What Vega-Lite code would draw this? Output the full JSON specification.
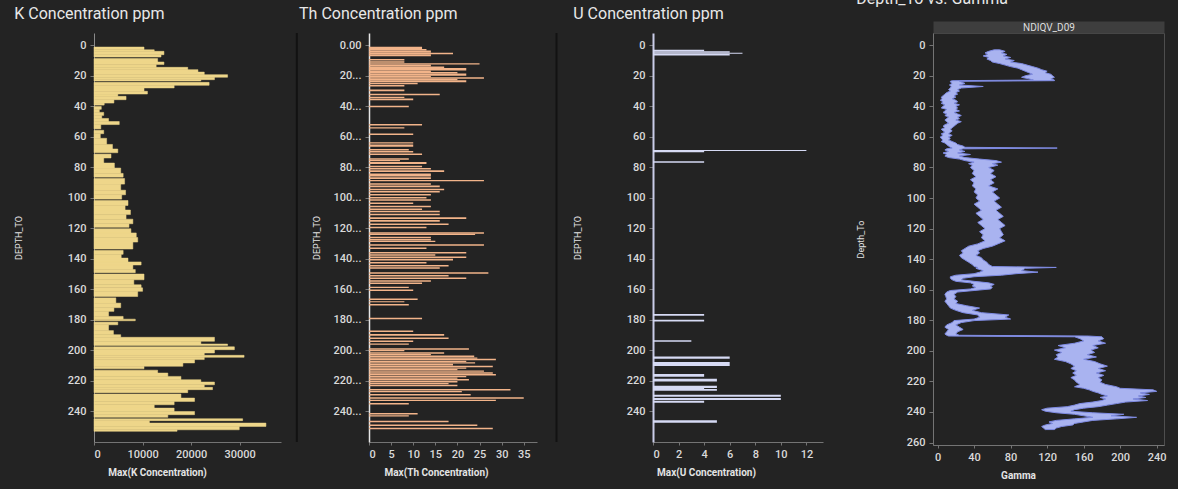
{
 "$schema": "https://vega.github.io/schema/vega-lite/v6.json",
 "background": "#232323",
 "padding": {"left": 14, "top": -10, "right": 15, "bottom": 8},
 "bounds": "flush",
 "spacing": 0,
 "datasets": {
  "k": [
   {"from":1.2,"to":3,"value":10300},{"from":3,"to":4,"value":12400},{"from":4,"to":6.2,"value":14400},{"from":6.2,"to":7.75,"value":13800},
   {"from":8.75,"to":11,"value":13100},{"from":11,"to":12.7,"value":14400},{"from":12.7,"to":14.5,"value":12800},{"from":14.5,"to":16,"value":19300},{"from":16,"to":17.6,"value":21400},{"from":17.6,"to":19.3,"value":22700},{"from":19.3,"to":21,"value":27500},{"from":21,"to":22.6,"value":24800},{"from":22.6,"to":23.45,"value":22000},
   {"from":24.35,"to":26.3,"value":23700},{"from":26.3,"to":28,"value":16500},{"from":28,"to":30.2,"value":10300},{"from":30.2,"to":32,"value":11000},{"from":32,"to":33.5,"value":4900},{"from":33.5,"to":35.7,"value":6600},{"from":35.7,"to":37.9,"value":4100},{"from":37.9,"to":39.25,"value":2100},
   {"from":40.15,"to":42,"value":1500},{"from":42,"to":44,"value":1100},{"from":44,"to":46,"value":2000},{"from":46,"to":48,"value":1600},{"from":48,"to":50,"value":3000},{"from":50,"to":52,"value":5200},{"from":52,"to":54.85,"value":1400},
   {"from":55.75,"to":58,"value":2000},{"from":58,"to":61,"value":1300},{"from":61,"to":65,"value":2600},{"from":65,"to":68,"value":3800},{"from":68,"to":70.45,"value":4900},
   {"from":71.35,"to":73.9,"value":3500},{"from":73.9,"to":77.2,"value":2000},{"from":77.2,"to":80.5,"value":4200},{"from":80.5,"to":84,"value":5500},{"from":84,"to":86.45,"value":6000},
   {"from":87.35,"to":91,"value":6300},{"from":91,"to":95,"value":5500},{"from":95,"to":98,"value":6500},{"from":98,"to":100.85,"value":5700},
   {"from":101.75,"to":105,"value":7000},{"from":105,"to":108,"value":6400},{"from":108,"to":111,"value":7500},{"from":111,"to":114,"value":6600},{"from":114,"to":117,"value":8000},{"from":117,"to":119.35,"value":7200},
   {"from":120.25,"to":123,"value":7600},{"from":123,"to":126,"value":8700},{"from":126,"to":129,"value":9000},{"from":129,"to":133.55,"value":8000},
   {"from":134.45,"to":137,"value":6000},{"from":137,"to":139.5,"value":5600},{"from":139.5,"to":142,"value":7000},{"from":142,"to":144,"value":9700},{"from":144,"to":147,"value":8000},{"from":147,"to":149.05,"value":8500},
   {"from":149.95,"to":153.7,"value":10300},{"from":153.7,"to":157,"value":8200},{"from":157,"to":159,"value":9700},{"from":159,"to":161.3,"value":10000},{"from":161.3,"to":164.65,"value":9000},
   {"from":165.55,"to":169,"value":4500},{"from":169,"to":172,"value":5500},{"from":172,"to":174.4,"value":4100},{"from":174.4,"to":177.7,"value":3000},{"from":177.7,"to":179.5,"value":6000},{"from":179.5,"to":180.55,"value":8500},
   {"from":181.45,"to":183.2,"value":4900},{"from":183.2,"to":187,"value":3000},{"from":187,"to":189.7,"value":4000},{"from":189.7,"to":191.4,"value":5500},{"from":191.4,"to":194,"value":24800},{"from":194,"to":195.8,"value":22000},{"from":195.8,"to":196.75,"value":27500},
   {"from":197.65,"to":199.5,"value":28900},{"from":199.5,"to":201.7,"value":24800},{"from":201.7,"to":203.2,"value":22700},{"from":203.2,"to":204.5,"value":30900},{"from":204.5,"to":206,"value":22700},{"from":206,"to":208.2,"value":20700},{"from":208.2,"to":210.4,"value":18300},{"from":210.4,"to":212.05,"value":10300},
   {"from":212.95,"to":214.8,"value":13100},{"from":214.8,"to":217,"value":15200},{"from":217,"to":219.2,"value":17900},{"from":219.2,"to":220.7,"value":22000},{"from":220.7,"to":222.5,"value":24800},{"from":222.5,"to":224.2,"value":22700},{"from":224.2,"to":225.7,"value":24400},{"from":225.7,"to":227.65,"value":19300},
   {"from":228.55,"to":231.2,"value":17900},{"from":231.2,"to":233.4,"value":20700},{"from":233.4,"to":235.6,"value":16500},{"from":235.6,"to":237.8,"value":12400},{"from":237.8,"to":240,"value":16500},{"from":240,"to":242.1,"value":20700},{"from":242.1,"to":243.85,"value":15200},
   {"from":244.75,"to":246,"value":30600},{"from":246,"to":247.6,"value":11400},{"from":247.6,"to":249.8,"value":35400},{"from":249.8,"to":252,"value":29900},{"from":252,"to":253,"value":17100}
  ],
  "th": [
   {"from":1.0,"to":2.5,"value":12},{"from":2.5,"to":3.5,"value":13},{"from":3.5,"to":5,"value":14},{"from":5,"to":6,"value":19},{"from":6,"to":7.3,"value":14},
   {"from":9,"to":10,"value":8},{"from":10.5,"to":11.5,"value":8},{"from":11.8,"to":12.6,"value":25},{"from":12.6,"to":14,"value":14},{"from":14,"to":15,"value":17},{"from":15,"to":16.5,"value":22},{"from":16.5,"to":17.5,"value":14},{"from":17.5,"to":18.5,"value":20},{"from":18.5,"to":20,"value":22},{"from":20,"to":21,"value":14},{"from":21,"to":22,"value":26},{"from":22,"to":23,"value":20},{"from":23,"to":24.2,"value":22},
   {"from":24.6,"to":25.5,"value":11},{"from":26,"to":27,"value":8},{"from":29,"to":30.2,"value":8},{"from":31.8,"to":32.8,"value":16},{"from":33.8,"to":34.6,"value":8},{"from":35,"to":36,"value":10},{"from":39.6,"to":40.6,"value":9},
   {"from":51.6,"to":52.6,"value":12},{"from":53.8,"to":54.6,"value":8},{"from":57.8,"to":58.8,"value":10},{"from":63.6,"to":64.4,"value":10},{"from":65,"to":66.6,"value":10},{"from":68,"to":69,"value":9},{"from":69.3,"to":70.3,"value":10},{"from":71,"to":72,"value":12},
   {"from":74,"to":75,"value":9},{"from":75.2,"to":76,"value":7},{"from":76.6,"to":77.8,"value":13},{"from":79,"to":80,"value":12},{"from":80.5,"to":81.5,"value":14},{"from":82,"to":83,"value":17},{"from":84,"to":86,"value":14},{"from":86.6,"to":87.6,"value":14},{"from":88.3,"to":89.2,"value":26},{"from":90.5,"to":91.5,"value":14},{"from":92,"to":93,"value":16},{"from":94,"to":95,"value":17},{"from":95.5,"to":96.5,"value":16},{"from":97.5,"to":98.5,"value":14},{"from":99.5,"to":100.5,"value":13},{"from":101,"to":102,"value":14},{"from":103,"to":104,"value":10},{"from":105.2,"to":106.2,"value":14},{"from":107,"to":108,"value":12},{"from":108.5,"to":109.5,"value":16},{"from":110.5,"to":111.5,"value":16},{"from":112.8,"to":113.8,"value":22},{"from":114.6,"to":115.6,"value":16},{"from":116.8,"to":117.8,"value":18},{"from":119,"to":120,"value":13},
   {"from":122.5,"to":123.5,"value":26},{"from":123.5,"to":124.4,"value":24},{"from":125.5,"to":126.5,"value":14},{"from":127,"to":128,"value":14},{"from":128.2,"to":129,"value":15},{"from":130.4,"to":131.4,"value":26},{"from":132.5,"to":133.5,"value":13},{"from":135.5,"to":136.5,"value":22},{"from":137,"to":138,"value":15},{"from":138.5,"to":139.5,"value":22},{"from":140,"to":141,"value":19},{"from":142,"to":143,"value":13},{"from":144,"to":145,"value":18},{"from":145.5,"to":146.5,"value":16},{"from":148.8,"to":149.8,"value":27},{"from":150.5,"to":151.5,"value":18},{"from":152.2,"to":153.2,"value":22},{"from":154,"to":155,"value":14},{"from":155.5,"to":156.5,"value":12},{"from":158.3,"to":159.1,"value":9},{"from":160,"to":161,"value":10},
   {"from":166,"to":167,"value":11},{"from":167.7,"to":168.5,"value":8},{"from":169.6,"to":170.6,"value":9},{"from":178.6,"to":179.6,"value":12},{"from":187,"to":188,"value":10},{"from":189.3,"to":190.3,"value":17},{"from":191.5,"to":192.5,"value":18},{"from":193.5,"to":194.5,"value":10},{"from":195.5,"to":196.3,"value":9},
   {"from":198.5,"to":199.5,"value":22.6},{"from":199.7,"to":200.5,"value":8},{"from":201.2,"to":202.2,"value":17},{"from":202.4,"to":203.2,"value":14},{"from":203.4,"to":204.4,"value":23.8},{"from":204.6,"to":205.4,"value":24.5},{"from":205.5,"to":206.5,"value":28.7},{"from":206.7,"to":207.6,"value":22},{"from":207.8,"to":208.6,"value":24},{"from":208.8,"to":209.8,"value":19},{"from":210,"to":211,"value":28},{"from":211.2,"to":212,"value":22},{"from":212.2,"to":213,"value":20},{"from":213.2,"to":214,"value":26},{"from":214.3,"to":215.3,"value":28},{"from":215.5,"to":216.5,"value":28.7},{"from":216.7,"to":217.5,"value":22},{"from":217.7,"to":218.5,"value":20},{"from":218.7,"to":219.7,"value":22.6},{"from":220,"to":221,"value":20},{"from":221.3,"to":222.2,"value":18},{"from":222.5,"to":223.5,"value":20},
   {"from":225.2,"to":226.2,"value":32},{"from":226.5,"to":227.4,"value":21},{"from":228.5,"to":229.5,"value":23},{"from":230.7,"to":231.7,"value":35},{"from":232.3,"to":233.2,"value":28.7},{"from":234.4,"to":235.4,"value":9},
   {"from":241,"to":242,"value":11},{"from":242.5,"to":243.3,"value":9},{"from":246,"to":247,"value":18},{"from":248.5,"to":249.5,"value":24.5},{"from":250.7,"to":251.7,"value":28}
  ],
  "u": [
   {"from":3.0,"to":4.0,"value":4},{"from":4.0,"to":5.0,"value":6},{"from":5.0,"to":5.6,"value":7},{"from":5.6,"to":6.8,"value":6},
   {"from":68.6,"to":69.4,"value":12},{"from":69.4,"to":70.2,"value":4},{"from":76.1,"to":77.0,"value":4},
   {"from":176.2,"to":177.2,"value":4},{"from":179.9,"to":181,"value":4},{"from":193.4,"to":194.3,"value":3},{"from":203.9,"to":205.4,"value":6},{"from":207.6,"to":210.2,"value":6},{"from":215.5,"to":217.2,"value":4},{"from":218.6,"to":220.3,"value":5},{"from":223.1,"to":224.6,"value":5},{"from":224.6,"to":225.2,"value":4},{"from":225.2,"to":226.4,"value":5},{"from":229,"to":230.3,"value":10},{"from":231.2,"to":232.5,"value":10},{"from":232.9,"to":234.2,"value":4},{"from":245.8,"to":247.4,"value":5}
  ],
  "gamma": [
   {"depth":3,"lo":62,"hi":68},{"depth":4,"lo":56,"hi":74},{"depth":5,"lo":52,"hi":70},{"depth":6,"lo":55,"hi":76},{"depth":7,"lo":50,"hi":72},{"depth":8,"lo":56,"hi":80},{"depth":9,"lo":54,"hi":74},{"depth":10,"lo":58,"hi":84},{"depth":11,"lo":60,"hi":80},{"depth":12,"lo":68,"hi":92},{"depth":13,"lo":74,"hi":98},{"depth":14,"lo":80,"hi":104},{"depth":15,"lo":88,"hi":110},{"depth":16,"lo":92,"hi":114},{"depth":17,"lo":96,"hi":120},{"depth":18,"lo":100,"hi":118},{"depth":19,"lo":104,"hi":124},{"depth":20,"lo":96,"hi":126},{"depth":21,"lo":92,"hi":128},{"depth":22,"lo":100,"hi":124},{"depth":22.8,"lo":105,"hi":128},{"depth":23.2,"lo":16,"hi":128},{"depth":23.6,"lo":14,"hi":24},
   {"depth":24,"lo":14,"hi":26},{"depth":25,"lo":16,"hi":30},{"depth":26,"lo":13,"hi":24},{"depth":27,"lo":15,"hi":50},{"depth":28,"lo":14,"hi":26},{"depth":29,"lo":12,"hi":22},{"depth":30,"lo":14,"hi":24},{"depth":31,"lo":10,"hi":20},{"depth":32,"lo":8,"hi":22},{"depth":33,"lo":6,"hi":18},{"depth":34,"lo":4,"hi":20},{"depth":35,"lo":5,"hi":16},{"depth":36,"lo":3,"hi":20},{"depth":37,"lo":6,"hi":22},{"depth":38,"lo":4,"hi":18},{"depth":39,"lo":8,"hi":24},{"depth":40,"lo":6,"hi":20},{"depth":41,"lo":4,"hi":22},{"depth":42,"lo":10,"hi":20},{"depth":43,"lo":8,"hi":24},{"depth":44,"lo":6,"hi":18},{"depth":45,"lo":10,"hi":22},{"depth":46,"lo":8,"hi":26},{"depth":47,"lo":12,"hi":22},{"depth":48,"lo":10,"hi":24},{"depth":49,"lo":8,"hi":20},{"depth":50,"lo":10,"hi":26},{"depth":51,"lo":12,"hi":22},{"depth":52,"lo":8,"hi":20},{"depth":53,"lo":6,"hi":18},{"depth":54,"lo":8,"hi":16},{"depth":55,"lo":4,"hi":14},{"depth":56,"lo":6,"hi":16},{"depth":57,"lo":8,"hi":14},{"depth":58,"lo":4,"hi":12},{"depth":59,"lo":6,"hi":16},{"depth":60,"lo":3,"hi":12},{"depth":61,"lo":4,"hi":14},{"depth":62,"lo":6,"hi":12},{"depth":63,"lo":4,"hi":16},{"depth":64,"lo":8,"hi":20},{"depth":65,"lo":10,"hi":22},{"depth":66,"lo":12,"hi":28},{"depth":66.8,"lo":14,"hi":30},{"depth":67.3,"lo":16,"hi":131},{"depth":67.8,"lo":10,"hi":28},
   {"depth":68.5,"lo":8,"hi":24},{"depth":69.5,"lo":12,"hi":30},{"depth":70.5,"lo":6,"hi":22},{"depth":71.5,"lo":10,"hi":36},{"depth":72.5,"lo":8,"hi":24},{"depth":73.5,"lo":12,"hi":30},{"depth":74.5,"lo":24,"hi":46},{"depth":75.5,"lo":30,"hi":64},{"depth":76.5,"lo":40,"hi":70},{"depth":77.5,"lo":34,"hi":60},{"depth":78.5,"lo":38,"hi":66},{"depth":80,"lo":36,"hi":56},{"depth":82,"lo":40,"hi":62},{"depth":84,"lo":38,"hi":58},{"depth":86,"lo":42,"hi":64},{"depth":88,"lo":36,"hi":58},{"depth":90,"lo":40,"hi":62},{"depth":92,"lo":38,"hi":56},{"depth":94,"lo":42,"hi":66},{"depth":96,"lo":40,"hi":60},{"depth":98,"lo":44,"hi":64},{"depth":100,"lo":42,"hi":68},{"depth":102,"lo":46,"hi":62},{"depth":104,"lo":40,"hi":66},{"depth":106,"lo":44,"hi":70},{"depth":108,"lo":48,"hi":64},{"depth":110,"lo":42,"hi":68},{"depth":112,"lo":46,"hi":72},{"depth":114,"lo":50,"hi":66},{"depth":116,"lo":44,"hi":70},{"depth":118,"lo":48,"hi":74},{"depth":120,"lo":52,"hi":68},{"depth":122,"lo":46,"hi":70},{"depth":124,"lo":50,"hi":72},{"depth":126,"lo":48,"hi":68},{"depth":128,"lo":52,"hi":74},{"depth":130,"lo":44,"hi":66},
   {"depth":131.5,"lo":34,"hi":60},{"depth":133,"lo":30,"hi":50},{"depth":134.5,"lo":26,"hi":44},{"depth":136,"lo":28,"hi":46},{"depth":137.5,"lo":24,"hi":42},{"depth":139,"lo":26,"hi":48},{"depth":140.5,"lo":30,"hi":50},{"depth":142,"lo":34,"hi":54},{"depth":143.5,"lo":38,"hi":56},{"depth":144.8,"lo":40,"hi":60},{"depth":145.4,"lo":44,"hi":130},{"depth":146,"lo":42,"hi":96},{"depth":147.5,"lo":50,"hi":92},{"depth":148.5,"lo":46,"hi":110},{"depth":149.5,"lo":40,"hi":86},{"depth":150.5,"lo":20,"hi":70},{"depth":151.5,"lo":14,"hi":40},{"depth":152.5,"lo":14,"hi":28},{"depth":153.5,"lo":16,"hi":26},{"depth":154.5,"lo":20,"hi":40},{"depth":155.5,"lo":36,"hi":56},{"depth":156.5,"lo":40,"hi":62},{"depth":157.5,"lo":38,"hi":58},{"depth":158.5,"lo":42,"hi":60},{"depth":159.5,"lo":36,"hi":58},{"depth":160.5,"lo":14,"hi":40},{"depth":161.5,"lo":10,"hi":22},{"depth":163,"lo":8,"hi":18},{"depth":164.5,"lo":9,"hi":20},{"depth":166,"lo":10,"hi":18},{"depth":167.5,"lo":8,"hi":22},{"depth":169,"lo":10,"hi":20},{"depth":170.5,"lo":12,"hi":32},{"depth":172,"lo":14,"hi":46},{"depth":173.5,"lo":20,"hi":38},{"depth":175,"lo":28,"hi":48},{"depth":176.5,"lo":44,"hi":78},{"depth":178,"lo":46,"hi":74},{"depth":179.2,"lo":40,"hi":80},{"depth":180.2,"lo":18,"hi":40},{"depth":181.5,"lo":16,"hi":26},{"depth":183,"lo":10,"hi":20},{"depth":184.5,"lo":8,"hi":24},{"depth":186,"lo":12,"hi":28},{"depth":187.5,"lo":10,"hi":22},{"depth":189,"lo":8,"hi":20},{"depth":189.8,"lo":10,"hi":24},{"depth":190.3,"lo":12,"hi":165},
   {"depth":190.8,"lo":150,"hi":180},{"depth":192,"lo":156,"hi":182},{"depth":193.5,"lo":160,"hi":176},{"depth":195,"lo":150,"hi":184},{"depth":196.5,"lo":132,"hi":170},{"depth":198,"lo":140,"hi":176},{"depth":199.5,"lo":128,"hi":168},{"depth":201,"lo":136,"hi":172},{"depth":202.5,"lo":130,"hi":164},{"depth":204,"lo":132,"hi":174},{"depth":205.5,"lo":128,"hi":160},{"depth":207,"lo":140,"hi":172},{"depth":208.5,"lo":146,"hi":178},{"depth":210,"lo":150,"hi":186},{"depth":211.5,"lo":146,"hi":176},{"depth":213,"lo":152,"hi":184},{"depth":214.5,"lo":148,"hi":174},{"depth":216,"lo":152,"hi":182},{"depth":217.5,"lo":146,"hi":176},{"depth":219,"lo":150,"hi":180},{"depth":220.5,"lo":152,"hi":178},{"depth":222,"lo":156,"hi":184},{"depth":223.5,"lo":150,"hi":196},{"depth":224.5,"lo":160,"hi":200},{"depth":225.5,"lo":166,"hi":236},{"depth":226.5,"lo":170,"hi":240},{"depth":227.5,"lo":176,"hi":222},{"depth":228.5,"lo":180,"hi":232},{"depth":229.5,"lo":186,"hi":220},{"depth":230.5,"lo":178,"hi":228},{"depth":231.5,"lo":184,"hi":214},{"depth":232.5,"lo":180,"hi":230},{"depth":233.5,"lo":170,"hi":206},{"depth":234.5,"lo":156,"hi":196},{"depth":235.5,"lo":150,"hi":186},{"depth":236.5,"lo":142,"hi":176},{"depth":237.5,"lo":120,"hi":160},{"depth":238.5,"lo":114,"hi":150},{"depth":239.5,"lo":118,"hi":146},{"depth":240.5,"lo":130,"hi":170},{"depth":241.5,"lo":150,"hi":204},{"depth":242.5,"lo":160,"hi":190},{"depth":243.5,"lo":170,"hi":218},{"depth":244.5,"lo":150,"hi":196},{"depth":245.5,"lo":130,"hi":170},{"depth":246.5,"lo":122,"hi":160},{"depth":247.5,"lo":126,"hi":150},{"depth":248.5,"lo":118,"hi":148},{"depth":249.5,"lo":114,"hi":136},{"depth":250.5,"lo":116,"hi":130},{"depth":251.5,"lo":118,"hi":128}
  ]
 },
 "hconcat": [
  {
   "width": 187, "height": 409,
   "title": {"text": "K Concentration ppm"},
   "data": {"name": "k"},
   "mark": {"type": "rect", "color": "#eed68a", "stroke": "#eed68a", "strokeWidth": 0.5},
   "encoding": {
    "y": {"field": "from", "type": "quantitative", "scale": {"domain": [-8, 260], "reverse": true, "nice": false, "zero": false},
          "axis": {"title": "DEPTH_TO", "values": [0,20,40,60,80,100,120,140,160,180,200,220,240], "titlePadding": 44, "domainColor": "#8a8a8a"}},
    "y2": {"field": "to"},
    "x": {"field": "value", "type": "quantitative", "scale": {"domain": [0, 38500], "nice": false},
          "axis": {"title": "Max(K Concentration)", "values": [0,10000,20000,30000], "format": "d", "titleX": 63}},
    "x2": {"datum": 0}
   }
  },
  {
   "width": 88, "height": 409,
   "data": {"values": [{}]},
   "mark": {"type": "rule", "color": "#121212", "strokeWidth": 2},
   "encoding": {"x": {"datum": 0.18, "type": "quantitative", "scale": {"domain": [0, 1]}, "axis": null}}
  },
  {
   "width": 168, "height": 409,
   "title": {"text": "Th Concentration ppm", "dx": -13},
   "data": {"name": "th"},
   "mark": {"type": "rect", "color": "#f2b48a"},
   "encoding": {
    "y": {"field": "from", "type": "quantitative", "scale": {"domain": [-8, 260], "reverse": true, "nice": false, "zero": false},
          "axis": {"title": "DEPTH_TO", "values": [0,20,40,60,80,100,120,140,160,180,200,220,240], "labelExpr": "datum.value == 0 ? '0.00' : datum.label + '...'", "titlePadding": 12, "domainColor": "#e6e6e6", "domainWidth": 1.5}},
    "y2": {"field": "to"},
    "x": {"field": "value", "type": "quantitative", "scale": {"domain": [0, 38], "nice": false},
          "axis": {"title": "Max(Th Concentration)", "values": [0,5,10,15,20,25,30,35], "titleX": 67}},
    "x2": {"datum": 0}
   }
  },
  {
   "width": 116, "height": 409,
   "data": {"values": [{}]},
   "mark": {"type": "rule", "color": "#121212", "strokeWidth": 2},
   "encoding": {"x": {"datum": 0.168, "type": "quantitative", "scale": {"domain": [0, 1]}, "axis": null}}
  },
  {
   "width": 170, "height": 409,
   "title": {"text": "U Concentration ppm"},
   "data": {"name": "u"},
   "mark": {"type": "rect", "color": "#d6daf4"},
   "encoding": {
    "y": {"field": "from", "type": "quantitative", "scale": {"domain": [-8, 260], "reverse": true, "nice": false, "zero": false},
          "axis": {"title": "DEPTH_TO", "values": [0,20,40,60,80,100,120,140,160,180,200,220,240], "titlePadding": 44, "domainColor": "#c9cce8", "domainWidth": 2}},
    "y2": {"field": "to"},
    "x": {"field": "value", "type": "quantitative", "scale": {"domain": [0, 13.3], "nice": false},
          "axis": {"title": "Max(U Concentration)", "values": [0,2,4,6,8,10,12], "titleX": 53}},
    "x2": {"datum": 0}
   }
  },
  {
   "width": 110, "height": 409,
   "data": {"values": [{}]},
   "mark": {"type": "rule", "opacity": 0},
   "encoding": {"x": {"datum": 0.5, "type": "quantitative", "scale": {"domain": [0, 1]}, "axis": null}}
  },
  {
   "width": 231, "height": 412,
   "title": {"text": "Depth_To vs. Gamma", "offset": 15},
   "view": {"stroke": "#4e4e4e"},
   "data": {"name": "gamma"},
   "layer": [
    {
     "mark": {"type": "area", "orient": "horizontal", "color": "#a9b3f0", "stroke": "#7f8be3", "strokeWidth": 1},
     "encoding": {
      "y": {"field": "depth", "type": "quantitative", "scale": {"domain": [-8, 261.6], "reverse": true, "nice": false, "zero": false},
            "axis": {"title": "Depth_To", "values": [0,20,40,60,80,100,120,140,160,180,200,220,240,260], "tickCount": 30, "titlePadding": 41, "labelOverlap": false, "labelBound": false}},
      "x": {"field": "lo", "type": "quantitative", "scale": {"domain": [-5, 248], "nice": false, "zero": false},
            "axis": {"title": "Gamma", "values": [0,40,80,120,160,200,240], "tickCount": 20, "titleX": 85}},
      "x2": {"field": "hi"}
     }
    },
    {
     "mark": {"type": "point", "opacity": 0},
     "encoding": {
      "y": {"field": "depth", "type": "quantitative"},
      "x": {"field": "lo", "type": "quantitative",
            "axis": {"orient": "top", "offset": 6, "domain": true, "domainColor": "#3e3e3e", "domainWidth": 12, "domainCap": "butt", "ticks": false, "labels": false, "title": "NDIQV_D09", "titleFontSize": 10, "titleFontWeight": "normal", "titleColor": "#dddddd", "titleY": 0, "titleBaseline": "middle"}}
     }
    }
   ],
   "resolve": {"axis": {"x": "independent"}}
  }
 ],
 "config": {
  "view": {"stroke": null},
  "font": "Roboto",
  "axis": {"grid": false, "labelColor": "#dadada", "labelFontSize": 11, "labelFont": "Roboto", "labelFontWeight": 500,
           "titleColor": "#e4e4e4", "titleFont": "Roboto", "titleFontSize": 10, "titleFontWeight": "bold",
           "domainColor": "#747474", "tickColor": "#747474", "tickSize": 3, "labelPadding": 3, "titlePadding": 8},
  "axisY": {"titleFontSize": 9, "titleFontWeight": "normal", "tickSize": 4, "labelPadding": 4},
  "title": {"anchor": "start", "frame": "bounds", "fontSize": 16, "font": "Roboto", "fontWeight": "normal", "color": "#e8e8e8", "offset": 11}
 }
}
